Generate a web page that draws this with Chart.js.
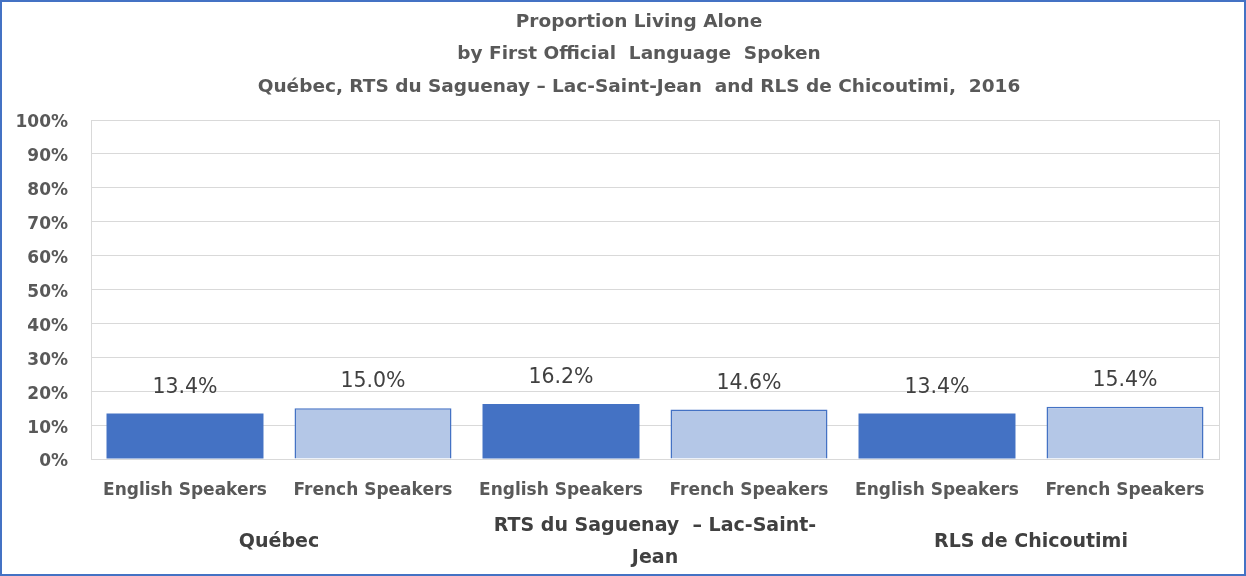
<!DOCTYPE html>
<html>
<head>
<meta charset="utf-8">
<script src="https://cdn.jsdelivr.net/npm/chart.js@4.4.1/dist/chart.umd.min.js"></script>
<style>
  html, body { margin: 0; padding: 0; background: #fff; }
  #wrap { position: relative; width: 1246px; height: 576px; }
  #frame { position: absolute; left: 0; top: 0; width: 1246px; height: 576px; box-sizing: border-box; border: 2px solid #4472C4; pointer-events: none; }
  canvas { display: block; }
</style>
</head>
<body>
<div id="wrap">
  <canvas id="c" width="1246" height="576"></canvas>
  <div id="frame"></div>
</div>
<script>
const categories = ['English Speakers', 'French Speakers', 'English Speakers', 'French Speakers', 'English Speakers', 'French Speakers'];
const groups = ['Québec', ['RTS du Saguenay  – Lac-Saint-', 'Jean'], 'RLS de Chicoutimi'];
const values = [13.4, 15.0, 16.2, 14.6, 13.4, 15.4];
const valueLabels = ['13.4%', '15.0%', '16.2%', '14.6%', '13.4%', '15.4%'];
const yTicks = [0, 10, 20, 30, 40, 50, 60, 70, 80, 90, 100];
const titleLines = ['Proportion Living Alone', 'by First Official  Language  Spoken', 'Québec, RTS du Saguenay – Lac-Saint-Jean  and RLS de Chicoutimi,  2016'];

const DARK = '#4472C4', LIGHT = '#B4C7E7';
const FONT = '"DejaVu Sans", sans-serif';

const frameAndLabels = {
  id: 'frameAndLabels',
  beforeDatasetsDraw(chart) {
    const { ctx, chartArea: a } = chart;
    ctx.save();
    ctx.strokeStyle = '#d9d9d9';
    ctx.lineWidth = 1;
    ctx.strokeRect(Math.round(a.left) + 0.5, Math.round(a.top) + 0.5, Math.round(a.right - a.left), Math.round(a.bottom - a.top));
    ctx.restore();
  },
  afterDatasetsDraw(chart) {
    const { ctx } = chart;
    const meta = chart.getDatasetMeta(0);
    ctx.save();
    ctx.font = '20.5px ' + FONT;
    ctx.fillStyle = '#404040';
    ctx.textAlign = 'center';
    ctx.textBaseline = 'middle';
    meta.data.forEach((bar, i) => {
      ctx.fillText(valueLabels[i], bar.x, bar.y - 26);
    });
    ctx.restore();
  },
  afterDraw(chart) {
    const { ctx } = chart;
    ctx.save();
    ctx.font = 'bold 18.5px ' + FONT;
    ctx.fillStyle = '#595959';
    ctx.textAlign = 'center';
    ctx.textBaseline = 'middle';
    const ys = [22, 54, 87];
    titleLines.forEach((t, i) => ctx.fillText(t, 639, ys[i]));
    ctx.restore();
  }
};

new Chart(document.getElementById('c'), {
  type: 'bar',
  data: {
    labels: categories,
    datasets: [{
      data: values,
      backgroundColor: values.map((v, i) => i % 2 === 0 ? DARK : LIGHT),
      borderColor: DARK,
      borderWidth: values.map((v, i) => i % 2 === 0 ? 0 : 1.5),
      categoryPercentage: 1,
      barPercentage: 0.835
    }]
  },
  options: {
    responsive: false,
    animation: false,
    layout: { padding: { left: 0, right: 27, top: 120, bottom: 0 } },
    plugins: {
      legend: { display: false },
      tooltip: { enabled: false },
      title: { display: false }
    },
    scales: {
      y: {
        min: 0, max: 100,
        afterBuildTicks(scale) { scale.ticks = yTicks.map(v => ({ value: v })); },
        afterFit(scale) { scale.width = 91; },
        ticks: {
          color: '#595959',
          font: { family: FONT, size: 17, weight: 'bold' },
          padding: 23,
          labelOffset: 3,
          callback: v => v + '%'
        },
        grid: { color: '#d9d9d9', lineWidth: 1, drawTicks: false },
        border: { display: false }
      },
      x: {
        weight: 0,
        afterFit(scale) { scale.height = 48; },
        ticks: {
          color: '#595959',
          font: { family: FONT, size: 17, weight: 'bold' },
          padding: 21,
          maxRotation: 0, autoSkip: false
        },
        grid: { display: false, drawTicks: false },
        border: { display: false }
      },
      groups: {
        type: 'category',
        position: 'bottom',
        weight: 1,
        labels: groups,
        offset: true,
        afterFit(scale) { scale.height = 69; },
        ticks: {
          color: '#404040',
          font: { family: FONT, size: 19, weight: 'bold', lineHeight: 1.7 },
          padding: 19,
          crossAlign: 'center',
          maxRotation: 0, autoSkip: false
        },
        grid: { display: false, drawTicks: false },
        border: { display: false }
      }
    }
  },
  plugins: [frameAndLabels]
});
</script>
</body>
</html>
